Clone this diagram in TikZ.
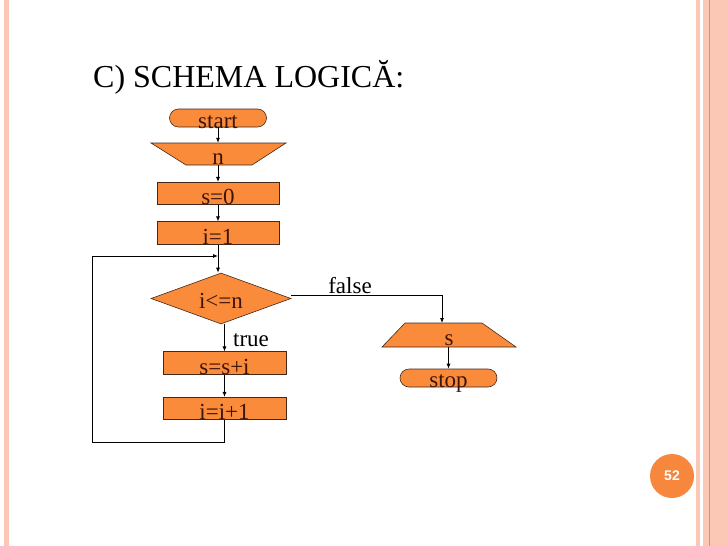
\documentclass[tikz,border=0pt]{standalone}
\usepackage{fontspec}
\setmainfont{Liberation Serif}
\newfontfamily\numfont{Liberation Sans}
\usetikzlibrary{shapes.geometric,arrows.meta,calc}
\definecolor{boxfill}{RGB}{250,139,58}
\definecolor{boxline}{RGB}{70,40,25}
\definecolor{boxtext}{RGB}{60,20,10}
\definecolor{pale}{RGB}{252,200,182}
\definecolor{edgeline}{RGB}{232,140,100}
\definecolor{numcirc}{RGB}{247,135,60}
\newcommand\lowered[2]{\smash{\raisebox{-#1}{#2}}}
\tikzset{
  boxfont/.style={font=\fontsize{23}{23}\selectfont, text=boxtext},
  procbox/.style={rectangle, draw=boxline, fill=boxfill, line width=0.6pt, minimum width=122pt, minimum height=22.5pt, inner sep=0pt, boxfont},
  pill/.style={rectangle, rounded corners=9pt, draw=boxline, fill=boxfill, line width=0.6pt, minimum width=97pt, minimum height=18pt, inner sep=0pt, boxfont},
  decbox/.style={diamond, aspect=3, draw=boxline, fill=boxfill, line width=0.6pt, minimum width=140pt, minimum height=51pt, inner sep=0pt, boxfont},
  trapshape/.style={draw=boxline, fill=boxfill, line width=0.6pt},
  holder/.style={rectangle, minimum width=60pt, inner sep=0pt, boxfont},
  arr/.style={-{Latex[length=5pt,width=4pt]}, line width=0.8pt, black},
  link/.style={line width=0.8pt, black},
  lbl/.style={font=\fontsize{23}{23}\selectfont, text=black, inner sep=0pt}
}
\begin{document}
\begin{tikzpicture}[x=1pt,y=-1pt]
\useasboundingbox (0,0) rectangle (728,546);
% slide decoration
\fill[pale] (4,0) rectangle (8.5,546);
\fill[pale] (696,0) rectangle (699.5,546);
\fill[pale] (703,0) rectangle (708.5,546);
\fill[edgeline] (708.5,0) rectangle (710,546);
\fill[pale] (710,0) rectangle (728,546);
% title
\node[anchor=base west, inner sep=0pt, font=\fontsize{32}{32}\selectfont] (title) at (93,87) {C) SCHEMA LOGICĂ:};
% page number
\node[circle, fill=numcirc, minimum size=44pt, inner sep=0pt, text=white, font=\numfont\bfseries\fontsize{14}{14}\selectfont] (pnum) at (672,476) {52};
% flowchart
\node[pill] (start) at (218,118) {\lowered{10pt}{start}};
\draw[trapshape] (151,143) -- (286,143) -- (252,165) -- (186,165) -- cycle;
\node[holder, minimum height=22pt] (n) at (218,154) {\lowered{10pt}{n}};
\node[procbox] (s0) at (218,193.5) {\lowered{10.5pt}{s=0}};
\node[procbox] (i1) at (218,233) {\lowered{11pt}{i=1}};
\node[decbox] (d) at (221,298.5) {\lowered{9.5pt}{i<=n}};
\node[procbox, minimum width=123pt] (ssi) at (224.5,363) {\lowered{11pt}{s=s+i}};
\node[procbox, minimum width=123pt] (ii) at (224.5,408.5) {\lowered{11pt}{i=i+1}};
\draw[trapshape] (405,323) -- (482,323) -- (516,347) -- (382,347) -- cycle;
\node[holder, minimum height=24pt] (sout) at (449,335) {\lowered{10pt}{s}};
\node[pill] (stop) at (448.5,378) {\lowered{9pt}{stop}};
% labels
\node[lbl] (tl) at (251,340) {true};
\node[lbl] (fl) at (350,286) {false};
% connectors
\coordinate (join) at (218,256);
\coordinate (lb) at (92,442);
\coordinate (lt) at (92,256);
\coordinate (sin) at (442,323);
\draw[arr] (start.south) -- (n.north);
\draw[arr] (n.south) -- (s0.north);
\draw[arr] (s0.south) -- (i1.north);
\draw[arr] (i1.south) -- (i1.south |- d.north);
\draw[arr] (lt) -- (join);
\draw[arr] (ssi.north |- d.south) -- (ssi.north);
\draw[arr] (ssi.south) -- (ii.north);
\draw[link] (ii.south) |- (lb) -- (lt);
\draw[arr] ([yshift=3pt]d.east) -| (sin);
\draw[arr] (sout.south -| stop.north) -- (stop.north);
\end{tikzpicture}
\end{document}
